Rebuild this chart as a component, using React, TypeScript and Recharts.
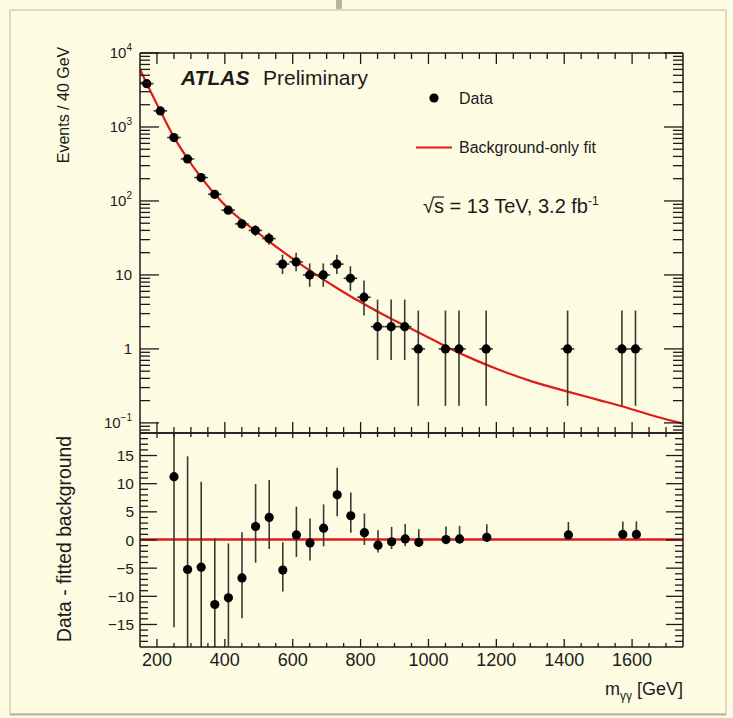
import { ComposedChart, Scatter, Line, XAxis, YAxis, ErrorBar, ReferenceLine } from 'recharts';

const W = 733;
const H = 718;
const PLOT_LEFT = 140;
const PLOT_RIGHT = 683;
const TOP_Y0 = 53;
const TOP_Y1 = 433;
const BOT_Y0 = 433;
const BOT_Y1 = 647;
const AX = 1; // thickness given to each axis box

const BG = '#fefbe3';
const INK = '#1b1b1b';
const BAR_INK = '#3a3a30';
const FIT_RED = '#dd1c1a';
const FONT = '"Liberation Sans", Arial, Helvetica, sans-serif';

// m_yy bin centres (GeV), 40 GeV bins
const massBins = [170, 210, 250, 290, 330, 370, 410, 450, 490, 530, 570, 610, 650, 690, 730, 770, 810, 850, 890, 930, 970, 1050, 1090, 1170, 1410, 1570, 1610];
const events = [3850, 1650, 720, 370, 207, 123, 75, 49, 40, 31, 14, 15, 10, 10, 14, 9, 5, 2, 2, 2, 1, 1, 1, 1, 1, 1, 1];
const eventsErrDown = [62, 41, 27, 19, 14.4, 11, 8.6, 6.9, 6.3, 5.5, 3.7, 3.8, 3.1, 3.1, 3.7, 2.9, 2.16, 1.29, 1.29, 1.29, 0.83, 0.83, 0.83, 0.83, 0.83, 0.83, 0.83];
const eventsErrUp = [62, 41, 27, 19, 14.9, 11.6, 9.2, 7.5, 6.8, 6.1, 4.8, 4.9, 4.3, 4.3, 4.8, 4.1, 3.38, 2.64, 2.64, 2.64, 2.3, 2.3, 2.3, 2.3, 2.3, 2.3, 2.3];
const binHalfWidth = 20;

// background-only fit
const fitMass = [150, 170, 210, 250, 290, 330, 370, 410, 450, 490, 530, 570, 610, 650, 690, 730, 770, 810, 850, 890, 930, 1000, 1060, 1140, 1200, 1300, 1410, 1500, 1570, 1650, 1720, 1750];
const fitEvents = [6000, 3850, 1650, 730, 375, 208, 124, 79, 54.5, 39.5, 28.5, 20.8, 15.4, 11.5, 8.7, 6.65, 5.15, 4.05, 3.2, 2.56, 2.07, 1.43, 1.03, 0.7, 0.54, 0.37, 0.265, 0.205, 0.168, 0.13, 0.106, 0.098];

// data - fitted background
const residualBins = [250, 290, 330, 370, 410, 450, 490, 530, 570, 610, 650, 690, 730, 770, 810, 850, 890, 930, 970, 1050, 1090, 1170, 1410, 1570, 1610];
const residuals = [11.1, -5.3, -4.9, -11.5, -10.3, -6.8, 2.3, 3.9, -5.4, 0.8, -0.6, 2.0, 7.9, 4.2, 1.2, -1.0, -0.4, 0.1, -0.5, 0.0, 0.1, 0.4, 0.8, 0.9, 0.9];
const residualErrDown = [26.6, 19.2, 14.4, 11.0, 8.6, 7.1, 6.4, 5.6, 3.8, 3.9, 3.1, 3.2, 3.8, 3.0, 2.16, 1.29, 1.29, 1.29, 0.83, 0.83, 0.83, 0.83, 0.83, 0.83, 0.83];
const residualErrUp = [26.8, 20.0, 15.1, 11.7, 9.6, 8.1, 7.5, 6.6, 4.9, 5.0, 4.3, 4.2, 4.8, 4.1, 3.4, 2.64, 2.64, 2.64, 2.3, 2.3, 2.3, 2.3, 2.3, 2.3, 2.3];

// axes
const xDomain: [number, number] = [150, 1750];
const xMajorTicks = [200, 400, 600, 800, 1000, 1200, 1400, 1600];
const topYDomain: [number, number] = [0.073, 10000];
const topYMajor = [0.1, 1, 10, 100, 1000, 10000];
const topYLabels = [['10', '−1'], ['1', ''], ['10', ''], ['10', '2'], ['10', '3'], ['10', '4']];
const botYDomain: [number, number] = [-19, 19];
const botYMajor = [-15, -10, -5, 0, 5, 10, 15];
const botYLabels = ['−15', '−10', '−5', '0', '5', '10', '15'];

const xTicksAll: number[] = [];
for (let v = 200; v < 1750; v += 50) xTicksAll.push(v);

const topYTicksAll: number[] = [];
[0.01, 0.1, 1, 10, 100, 1000].forEach((d) => {
  for (let k = 1; k < 10; k++) {
    const v = +(d * k).toPrecision(3);
    if (v >= topYDomain[0] && v <= topYDomain[1]) topYTicksAll.push(v);
  }
});
topYTicksAll.push(10000);

const botYTicksAll: number[] = [];
for (let v = -18; v <= 18; v++) botYTicksAll.push(v);

const topPoints = massBins.map((m, i) => ({
  x: m,
  y: events[i],
  yErr: [eventsErrDown[i], eventsErrUp[i]],
  xErr: binHalfWidth,
}));
const fitPoints = fitMass.map((m, i) => ({ x: m, y: fitEvents[i] }));
const residualPoints = residualBins.map((m, i) => ({
  x: m,
  y: residuals[i],
  yErr: [residualErrDown[i], residualErrUp[i]],
}));

const dot = (props: any) => <circle cx={props.cx} cy={props.cy} r={4.6} fill="#000" />;

// ROOT-style ticks: drawn inside the frame
const xTick = (edgeY: number, dir: number, major: number, minor: number, labelY?: number) => (props: any) => {
  const v = props.payload.value;
  const x = props.x;
  const isMajor = xMajorTicks.includes(v);
  const len = isMajor ? major : minor;
  return (
    <g>
      <line x1={x} x2={x} y1={edgeY} y2={edgeY + dir * len} stroke={INK} strokeWidth={1.3} />
      {labelY !== undefined && isMajor && (
        <text x={x} y={labelY} textAnchor="middle" fontSize={18} fontFamily={FONT} fill={INK}>
          {v}
        </text>
      )}
    </g>
  );
};

const topYTick = (edgeX: number, dir: number, withLabel: boolean) => (props: any) => {
  const v = props.payload.value;
  const y = props.y;
  const idx = topYMajor.findIndex((m) => Math.abs(m - v) / m < 1e-6);
  const len = idx >= 0 ? 19 : 10;
  return (
    <g>
      <line x1={edgeX} x2={edgeX + dir * len} y1={y} y2={y} stroke={INK} strokeWidth={1.3} />
      {withLabel && idx >= 0 && (
        <text x={132} y={y + 5} textAnchor="end" fontSize={15} fontFamily={FONT} fill={INK}>
          {topYLabels[idx][0]}
          {topYLabels[idx][1] && (
            <tspan dy={-7} fontSize={10}>
              {topYLabels[idx][1]}
            </tspan>
          )}
        </text>
      )}
    </g>
  );
};

const botYTick = (edgeX: number, dir: number, withLabel: boolean) => (props: any) => {
  const v = props.payload.value;
  const y = props.y;
  const idx = botYMajor.indexOf(v);
  const len = idx >= 0 ? 17 : 8;
  return (
    <g>
      <line x1={edgeX} x2={edgeX + dir * len} y1={y} y2={y} stroke={INK} strokeWidth={1.3} />
      {withLabel && idx >= 0 && (
        <text x={134} y={y + 5.5} textAnchor="end" fontSize={15.5} fontFamily={FONT} fill={INK}>
          {botYLabels[idx]}
        </text>
      )}
    </g>
  );
};

const axisLine = { stroke: INK, strokeWidth: 1.5 };

const TopPanel = () => (
  <ComposedChart
    width={W}
    height={H}
    margin={{ top: TOP_Y0 - AX, bottom: H - TOP_Y1 - AX, left: PLOT_LEFT - AX, right: W - PLOT_RIGHT - AX }}
  >
    <XAxis xAxisId="b" dataKey="x" type="number" domain={xDomain} allowDataOverflow ticks={xTicksAll} interval={0}
      height={AX} axisLine={axisLine} tickLine={false} tick={xTick(TOP_Y1, -1, 11, 6)} />
    <XAxis xAxisId="t" orientation="top" dataKey="x" type="number" domain={xDomain} allowDataOverflow ticks={xTicksAll}
      interval={0} height={AX} axisLine={axisLine} tickLine={false} tick={xTick(TOP_Y0, 1, 11, 6)} />
    <YAxis yAxisId="l" scale="log" type="number" domain={topYDomain} allowDataOverflow ticks={topYTicksAll} interval={0}
      width={AX} axisLine={axisLine} tickLine={false} tick={topYTick(PLOT_LEFT, 1, true)} />
    <YAxis yAxisId="r" orientation="right" scale="log" type="number" domain={topYDomain} allowDataOverflow
      ticks={topYTicksAll} interval={0} width={AX} axisLine={axisLine} tickLine={false} tick={topYTick(PLOT_RIGHT, -1, false)} />
    <Line xAxisId="b" yAxisId="l" data={fitPoints} dataKey="y" type="monotone" stroke={FIT_RED} strokeWidth={2.2}
      dot={false} isAnimationActive={false} />
    <Scatter xAxisId="b" yAxisId="l" data={topPoints} dataKey="y" shape={dot} isAnimationActive={false}>
      <ErrorBar dataKey="yErr" direction="y" width={0} stroke={BAR_INK} strokeWidth={1.6} />
      <ErrorBar dataKey="xErr" direction="x" width={0} stroke={BAR_INK} strokeWidth={1.6} />
    </Scatter>
  </ComposedChart>
);

// frame, ticks and labels of the ratio pad
const BottomAxes = () => (
  <ComposedChart
    width={W}
    height={H}
    margin={{ top: BOT_Y0 - AX, bottom: H - BOT_Y1 - AX, left: PLOT_LEFT - AX, right: W - PLOT_RIGHT - AX }}
  >
    <XAxis xAxisId="b" dataKey="x" type="number" domain={xDomain} allowDataOverflow ticks={xTicksAll} interval={0}
      height={AX} axisLine={axisLine} tickLine={false} tick={xTick(BOT_Y1, -1, 8, 4, 666)} />
    <XAxis xAxisId="t" orientation="top" dataKey="x" type="number" domain={xDomain} allowDataOverflow ticks={xTicksAll}
      interval={0} height={AX} axisLine={axisLine} tickLine={false} tick={xTick(BOT_Y0, 1, 5, 4)} />
    <YAxis yAxisId="l" type="number" domain={botYDomain} allowDataOverflow ticks={botYTicksAll} interval={0}
      width={AX} axisLine={axisLine} tickLine={false} tick={botYTick(PLOT_LEFT, 1, true)} />
    <YAxis yAxisId="r" orientation="right" type="number" domain={botYDomain} allowDataOverflow ticks={botYTicksAll}
      interval={0} width={AX} axisLine={axisLine} tickLine={false} tick={botYTick(PLOT_RIGHT, -1, false)} />
  </ComposedChart>
);

// marks of the ratio pad; the wrapper clips them to the frame
const BottomData = () => (
  <ComposedChart
    width={W}
    height={H}
    margin={{ top: BOT_Y0 - AX, bottom: H - BOT_Y1 - AX, left: PLOT_LEFT - AX, right: W - PLOT_RIGHT - AX }}
  >
    <XAxis xAxisId="b" dataKey="x" type="number" domain={xDomain} allowDataOverflow height={AX} axisLine={false}
      tickLine={false} tick={false} />
    <YAxis yAxisId="l" type="number" domain={botYDomain} allowDataOverflow width={AX} axisLine={false}
      tickLine={false} tick={false} />
    <ReferenceLine xAxisId="b" yAxisId="l" y={0} stroke={FIT_RED} strokeWidth={2.4} />
    <Scatter xAxisId="b" yAxisId="l" data={residualPoints} dataKey="y" shape={dot} isAnimationActive={false}>
      <ErrorBar dataKey="yErr" direction="y" width={0} stroke={BAR_INK} strokeWidth={1.6} />
    </Scatter>
  </ComposedChart>
);

const Annotations = () => (
  <svg width={W} height={H} style={{ position: 'absolute', left: 0, top: 0, pointerEvents: 'none' }}>
    <rect x={10} y={10} width={716} height={704} fill="none" stroke="#d6cfb0" strokeWidth={1.5} />
    <line x1={10} x2={726} y1={714.5} y2={714.5} stroke="#b8b29c" strokeWidth={2} />
    <rect x={336} y={0} width={6} height={9} fill="#b9b5a4" />
    <text x={181} y={85} fontFamily={FONT} fontSize={21} fontWeight="bold" fontStyle="italic" fill={INK}>
      ATLAS
    </text>
    <text x={263} y={85} fontFamily={FONT} fontSize={21} fill={INK}>
      Preliminary
    </text>
    <circle cx={434} cy={98} r={4.6} fill="#000" />
    <text x={459} y={104} fontFamily={FONT} fontSize={16} fill={INK}>
      Data
    </text>
    <line x1={416} x2={452} y1={147.5} y2={147.5} stroke={FIT_RED} strokeWidth={2} />
    <text x={459} y={153} fontFamily={FONT} fontSize={16} fill={INK}>
      Background-only fit
    </text>
    <text x={423} y={213} fontFamily={FONT} fontSize={20} fill={INK}>
      √s = 13 TeV, 3.2 fb
      <tspan dy={-8} fontSize={12}>
        -1
      </tspan>
    </text>
    <line x1={433} x2={444} y1={197} y2={197} stroke={INK} strokeWidth={1.2} />
    <text transform="translate(69,105) rotate(-90)" textAnchor="middle" fontFamily={FONT} fontSize={16} fill={INK}>
      Events / 40 GeV
    </text>
    <text transform="translate(71,539) rotate(-90)" textAnchor="middle" fontFamily={FONT} fontSize={19.3} fill={INK}>
      Data - fitted background
    </text>
    <text x={683} y={695} textAnchor="end" fontFamily={FONT} fontSize={18} fill={INK}>
      m
      <tspan dy={5} fontSize={12}>
        γγ
      </tspan>
      <tspan dy={-5}> [GeV]</tspan>
    </text>
  </svg>
);

export default function App() {
  const layer = { position: 'absolute' as const, left: 0, top: 0 };
  return (
    <div style={{ position: 'absolute', left: 0, top: 0, width: W, height: H, background: BG, overflow: 'hidden' }}>
      <div style={layer}>
        <TopPanel />
      </div>
      <div
        style={{
          ...layer,
          clipPath: `inset(${BOT_Y0}px ${W - PLOT_RIGHT}px ${H - BOT_Y1}px ${PLOT_LEFT}px)`,
        }}
      >
        <BottomData />
      </div>
      <div style={layer}>
        <BottomAxes />
      </div>
      <Annotations />
    </div>
  );
}
